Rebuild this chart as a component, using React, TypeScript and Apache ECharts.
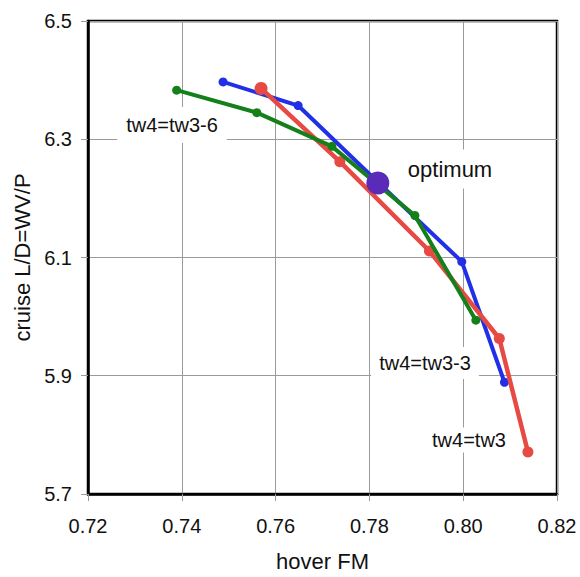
import React, { useEffect, useRef } from "react";
import * as echarts from "echarts";

// hover FM (x) and cruise L/D (y) for each family of designs
const blueFM = [0.7488, 0.7648, 0.7816, 0.7997, 0.8088];
const blueLD = [6.397, 6.357, 6.229, 6.093, 5.889];

const redFM = [0.7569, 0.7737, 0.7928, 0.8077, 0.8138];
const redLD = [6.386, 6.262, 6.111, 5.963, 5.771];

const greenFM = [0.7389, 0.756, 0.772, 0.7897, 0.8027];
const greenLD = [6.383, 6.345, 6.288, 6.171, 5.994];

const optimumFM = [0.7818];
const optimumLD = [6.226];

const xTicks = ["0.72", "0.74", "0.76", "0.78", "0.80", "0.82"];
const yTicks = ["5.7", "5.9", "6.1", "6.3", "6.5"];

const FONT = '"Liberation Sans", Arial, Helvetica, sans-serif';

const zip = (xs: number[], ys: number[]) => xs.map((x, i) => [x, ys[i]]);

export default function App() {
  const ref = useRef<HTMLDivElement>(null);

  useEffect(() => {
    if (!ref.current) return;
    const chart = echarts.init(ref.current, null, { renderer: "svg" });

    const xMin = Number(xTicks[0]);
    const xMax = Number(xTicks[xTicks.length - 1]);
    const yMin = Number(yTicks[0]);
    const yMax = Number(yTicks[yTicks.length - 1]);

    const label = (
      text: string,
      x: number,
      y: number,
      size: number,
      padding: number[]
    ) => ({
      type: "text",
      x,
      y,
      z: 100,
      style: {
        text,
        font: `${size}px ${FONT}`,
        fill: "#111",
        align: "center",
        verticalAlign: "middle",
        textAlign: "center",
        textVerticalAlign: "middle",
        backgroundColor: "#fff",
        padding,
      },
    });

    chart.setOption({
      animation: false,
      backgroundColor: "#fff",
      textStyle: { fontFamily: FONT },
      grid: {
        left: 88,
        right: 23,
        top: 21,
        bottom: 82,
        show: true,
        borderColor: "#000",
        borderWidth: 2.5,
        backgroundColor: "transparent",
      },
      xAxis: {
        type: "value",
        min: xMin,
        max: xMax,
        interval: 0.02,
        name: "hover FM",
        nameLocation: "middle",
        nameGap: 56,
        nameTextStyle: { fontSize: 22, color: "#111", fontFamily: FONT },
        axisLine: { show: true, onZero: false, lineStyle: { color: "#000", width: 2.5 } },
        axisTick: { show: true, length: 7, lineStyle: { color: "#999", width: 1 } },
        axisLabel: {
          margin: 22,
          fontSize: 20,
          color: "#111",
          fontFamily: FONT,
          formatter: (v: number) => v.toFixed(2),
        },
        splitLine: { show: true, lineStyle: { color: "#9a9a9a", width: 1 } },
      },
      yAxis: {
        type: "value",
        min: yMin,
        max: yMax,
        interval: 0.2,
        name: "cruise L/D=WV/P",
        nameLocation: "middle",
        nameGap: 55,
        nameTextStyle: { fontSize: 22, color: "#111", fontFamily: FONT },
        axisLine: { show: true, onZero: false, lineStyle: { color: "#000", width: 2.5 } },
        axisTick: { show: true, length: 7, lineStyle: { color: "#999", width: 1 } },
        axisLabel: {
          margin: 16,
          fontSize: 20,
          color: "#111",
          fontFamily: FONT,
          formatter: (v: number) => v.toFixed(1),
        },
        splitLine: { show: true, lineStyle: { color: "#9a9a9a", width: 1 } },
      },
      series: [
        {
          type: "line",
          data: zip(blueFM, blueLD),
          symbol: "circle",
          symbolSize: 9,
          lineStyle: { color: "#2130e6", width: 4 },
          itemStyle: { color: "#2130e6", opacity: 1 },
          z: 2,
        },
        {
          type: "line",
          data: zip(redFM, redLD).map((p, i) =>
            i === 0 ? { value: p, symbolSize: 13 } : p
          ),
          symbol: "circle",
          symbolSize: 11,
          lineStyle: { color: "#e64a43", width: 4.5 },
          itemStyle: { color: "#e64a43", opacity: 1 },
          z: 3,
        },
        {
          type: "line",
          data: zip(greenFM, greenLD),
          symbol: "circle",
          symbolSize: 9,
          lineStyle: { color: "#14801a", width: 4 },
          itemStyle: { color: "#14801a", opacity: 1 },
          z: 4,
        },
        {
          type: "scatter",
          data: zip(optimumFM, optimumLD),
          symbol: "circle",
          symbolSize: 23,
          itemStyle: { color: "#5a2ab8", opacity: 1 },
          z: 5,
        },
      ],
      graphic: [
        label("tw4=tw3-6", 172, 125, 20, [5, 9, 11, 9]),
        label("optimum", 450, 169, 22, [8, 8, 9, 8]),
        label("tw4=tw3-3", 425, 363, 20, [2, 8, 10, 8]),
        label("tw4=tw3", 469, 440, 20, [0, 4, 5, 4]),
      ],
    });

    return () => chart.dispose();
  }, []);

  return (
    <div
      ref={ref}
      style={{ position: "fixed", left: 0, top: 0, width: 580, height: 577 }}
    />
  );
}
